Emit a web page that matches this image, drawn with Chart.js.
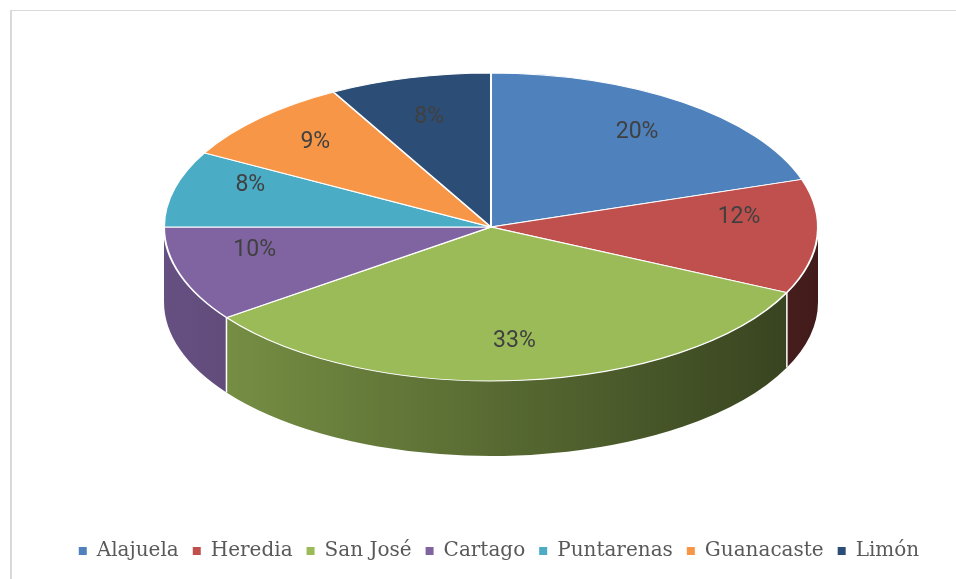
<!DOCTYPE html>
<html>
<head>
<meta charset="utf-8">
<script src="https://cdn.jsdelivr.net/npm/chart.js@4.4.1/dist/chart.umd.min.js"></script>
<style>
  html, body { margin: 0; padding: 0; background: #fff; overflow: hidden; width: 956px; height: 579px; }
  #frame { position: absolute; left: 10px; top: 10px; width: 974px; height: 600px;
           border: 1px solid #d9d9d9; border-left-width: 2px; }
  #chart { position: absolute; left: 0; top: 0; }
</style>
</head>
<body>
<div id="frame"><canvas id="chart" width="974" height="568"></canvas></div>
<script>
// data
const provinces = ['Alajuela', 'Heredia', 'San José', 'Cartago', 'Puntarenas', 'Guanacaste', 'Limón'];
const shares = [20, 12, 33, 10, 8, 9, 8];
const colors = ['#4F81BD', '#C0504D', '#9BBB59', '#8064A2', '#4BACC6', '#F79646', '#2C4D75'];

// ellipse of the top face, in canvas coords
const CX = 479, CY = 216, RX = 327, RY = 154, DEPTH = 75;
// labels follow the tilted look a bit (upper half looks shorter)
const LABEL_R = 0.76, LABEL_Y = 198, LABEL_UP = 125, LABEL_DOWN = 175;

function shade(hex, f) {
    const n = parseInt(hex.slice(1), 16);
    const r = Math.round(((n >> 16) & 255) * f);
    const g = Math.round(((n >> 8) & 255) * f);
    const b = Math.round((n & 255) * f);
    return `rgb(${r},${g},${b})`;
}

// squash the pie into an ellipse and give it a side wall
const pie3d = {
    id: 'pie3d',
    beforeDatasetsDraw(chart) {
        const ctx = chart.ctx;
        const meta = chart.getDatasetMeta(0);
        const first = meta.data[0];
        const R = first.outerRadius;

        // side wall (front half only: angles 0..PI)
        const edges = [];
        meta.data.forEach((arc, i) => {
            [0, -2 * Math.PI].forEach(k => {
                const a1 = Math.max(arc.startAngle + k, 0);
                const a2 = Math.min(arc.endAngle + k, Math.PI);
                if (a2 <= a1) return;
                const grad = ctx.createLinearGradient(CX - RX, 0, CX + RX, 0);
                grad.addColorStop(0, shade(colors[i], 0.8));
                grad.addColorStop(1, shade(colors[i], 0.34));
                ctx.beginPath();
                ctx.ellipse(CX, CY, RX, RY, 0, a1, a2);
                ctx.ellipse(CX, CY + DEPTH, RX, RY, 0, a2, a1, true);
                ctx.closePath();
                ctx.fillStyle = grad;
                ctx.fill();
                if (a1 > 0) edges.push(a1);
            });
        });
        ctx.strokeStyle = '#ffffff';
        ctx.lineWidth = 1.5;
        edges.forEach(a => {
            const x = CX + RX * Math.cos(a), y = CY + RY * Math.sin(a);
            ctx.beginPath();
            ctx.moveTo(x, y);
            ctx.lineTo(x, y + DEPTH);
            ctx.stroke();
        });

        ctx.save();
        ctx.translate(CX, CY);
        ctx.scale(RX / R, RY / R);
        ctx.translate(-first.x, -first.y);
    },
    afterDatasetsDraw(chart) {
        const ctx = chart.ctx;
        ctx.restore();
        const meta = chart.getDatasetMeta(0);
        const total = shares.reduce((a, b) => a + b, 0);
        ctx.save();
        ctx.font = '23px Roboto';
        ctx.fillStyle = '#404040';
        ctx.textAlign = 'center';
        ctx.textBaseline = 'middle';
        meta.data.forEach((arc, i) => {
            const mid = (arc.startAngle + arc.endAngle) / 2;
            const s = Math.sin(mid);
            const x = CX + LABEL_R * RX * Math.cos(mid);
            const y = LABEL_Y + LABEL_R * (s > 0 ? LABEL_DOWN : LABEL_UP) * s;
            ctx.fillText(Math.round(shares[i] / total * 100) + '%', x, y);
        });
        ctx.restore();
    }
};

const provinceChart = new Chart(document.getElementById('chart').getContext('2d'), {
    type: 'pie',
    data: {
        labels: provinces,
        datasets: [{
            data: shares,
            backgroundColor: colors,
            borderColor: '#ffffff',
            borderWidth: 1.6
        }]
    },
    options: {
        responsive: false,
        animation: false,
        events: [],
        layout: { padding: { bottom: 8 } },
        plugins: {
            tooltip: { enabled: false },
            legend: {
                position: 'bottom',
                labels: {
                    font: { family: 'DejaVu Serif', size: 20 },
                    color: '#595959',
                    boxWidth: 8,
                    boxHeight: 8,
                    padding: 14,
                    generateLabels: () => provinces.map((p, i) => ({
                        text: p,
                        fillStyle: colors[i],
                        strokeStyle: colors[i],
                        lineWidth: 0,
                        hidden: false,
                        index: i,
                        fontColor: '#595959'
                    }))
                }
            }
        }
    },
    plugins: [pie3d]
});
</script>
</body>
</html>
